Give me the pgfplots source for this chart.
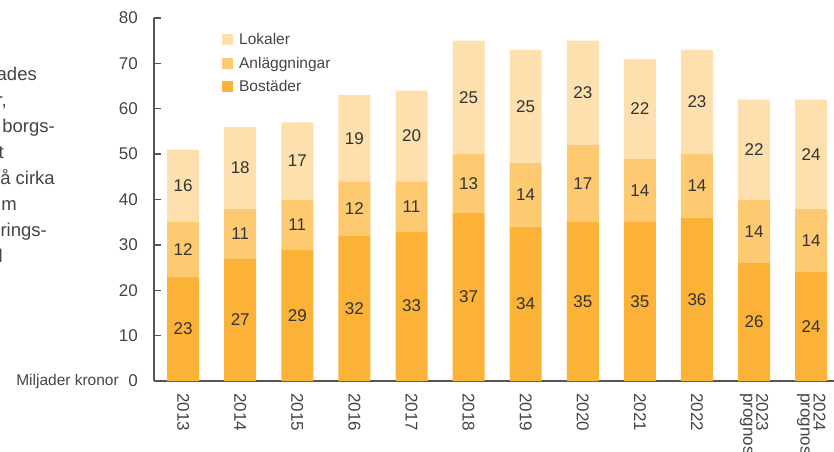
\documentclass[border=0pt]{standalone}
\usepackage{pgfplots}
\pgfplotsset{compat=1.18}
\usepackage{pgfplotstable}
\usepackage{fontspec}
\setmainfont{Liberation Sans}
\definecolor{bost}{HTML}{FBB237}
\definecolor{anl}{HTML}{FDCA72}
\definecolor{lok}{HTML}{FDE0AE}
\definecolor{txt}{HTML}{444444}
\definecolor{vtxt}{HTML}{333333}
\definecolor{axc}{HTML}{555555}

\pgfplotstableread{
x b a l
0 23 12 16
1 27 11 18
2 29 11 17
3 32 12 19
4 33 11 20
5 37 13 25
6 34 14 25
7 35 17 23
8 35 14 22
9 36 14 23
10 26 14 22
11 24 14 24
}\datatable

\begin{document}
\begin{tikzpicture}[x=1pt,y=1pt]
\clip (0,0) rectangle (834,451);
\begin{axis}[
  at={(154pt,70pt)}, anchor=south west,
  scale only axis, width=680pt, height=363pt,
  ybar stacked, bar width=32pt,
  xmin=-0.51, xmax=11.4, ymin=0, ymax=80,
  /pgf/number format/assume math mode=true,
  axis lines*=left,
  axis line style={axc, line width=1.3pt},
  ytick={0,10,...,80},
  tick align=inside,
  major tick length=7pt,
  ytick style={axc, line width=1.3pt},
  xtick style={draw=none},
  xtick=data,
  xticklabels={2013,2014,2015,2016,2017,2018,2019,2020,2021,2022,{2023\\prognos},{2024\\prognos}},
  xticklabel style={rotate=-90, anchor=west, align=left, inner sep=0pt, text=txt, font=\fontsize{17}{13}\selectfont},
  xticklabel shift=12pt,
  yticklabel style={anchor=east, inner sep=0pt, xshift=-16pt, text=txt, font=\fontsize{17}{17}\selectfont},
  clip=false,
  legend style={at={(0.0955,0.97)}, anchor=north west, draw=none, fill=none,
    font=\fontsize{15.5}{15.5}\selectfont, text=txt, row sep=7pt,
    /tikz/every even column/.append style={column sep=0pt}},
  legend cell align=left,
  legend image code/.code={\fill[#1] (0pt,-5.5pt) rectangle (11pt,5.5pt);\path (15pt,0pt);},
  reverse legend,
  every node near coord/.append style={anchor=center, text=vtxt, font=\fontsize{17}{17}\selectfont},
]
\addplot+[fill=bost, draw=none, point meta=explicit, nodes near coords]
  table[x=x, y=b, meta=b] {\datatable};
\addlegendentry{Bostäder}
\addplot+[fill=anl, draw=none, point meta=explicit, nodes near coords]
  table[x=x, y=a, meta=a] {\datatable};
\addlegendentry{Anläggningar}
\addplot+[fill=lok, draw=none, point meta=explicit, nodes near coords]
  table[x=x, y=l, meta=l] {\datatable};
\addlegendentry{Lokaler}
\end{axis}
\node[anchor=east, inner sep=0pt, text=txt, font=\fontsize{15.5}{15.5}\selectfont] at (119,70) {Miljader kronor};
\begin{scope}[every node/.style={anchor=base east, inner sep=0pt, text=txt, font=\fontsize{18.5}{18.5}\selectfont}]
\node at (37,371) {ades};
\node at (7,345) {r,};
\node at (55,319) {borgs-};
\node at (4,293) {t};
\node at (55,267) {å cirka};
\node at (17,241) {m};
\node at (47,215) {rings-};
\node at (3,189) {l};
\end{scope}
\end{tikzpicture}
\end{document}
